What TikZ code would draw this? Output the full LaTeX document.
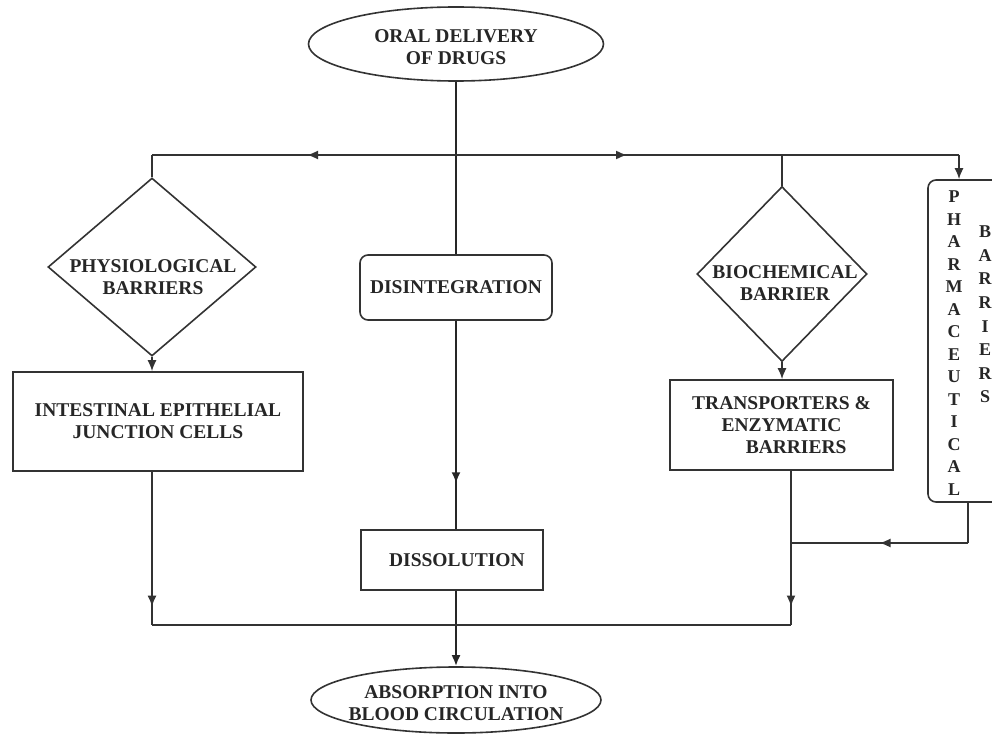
\documentclass[tikz,border=0pt]{standalone}
\usepackage{fontspec}
\setmainfont{Liberation Serif}
\usetikzlibrary{shapes.geometric,arrows.meta,decorations.markings}
\newcommand\lblfont{\fontsize{19.5}{22}\selectfont\bfseries}
\newcommand\pharmfont{\fontsize{18}{22.5}\selectfont\bfseries}
\newcommand\barrfont{\fontsize{18}{23.6}\selectfont\bfseries}
\tikzset{
  conn/.style={draw=black!80, line width=1.6pt},
  mainconn/.style={draw=black!85, line width=2.2pt},
  tipend/.style={-{Latex[length=11pt,width=9pt]}},
  midarrow/.style={postaction={decorate}, decoration={markings, mark=at position #1 with {\arrow{Latex[length=11pt,width=9pt]}}}},
  shapebox/.style={draw=black!80, line width=1.6pt, inner sep=0pt},
  lbl/.style={font=\lblfont, text=black!85, align=center, inner sep=0pt},
}
\begin{document}
\begin{tikzpicture}[x=1pt,y=-1pt]
\useasboundingbox (0,0) rectangle (992,738);
\clip (0,0) rectangle (992,738);

% shapes
\node[shapebox, ellipse, minimum width=295pt, minimum height=74pt] (top) at (456,44) {};
\node[lbl] (topT) at (456,47) {ORAL DELIVERY\\OF DRUGS};

\node[shapebox, diamond, minimum width=208pt, minimum height=178pt] (phys) at (152,267) {};
\node[lbl] (physT) at (153,277) {PHYSIOLOGICAL\\BARRIERS};

\node[shapebox, rounded corners=8pt, minimum width=192pt, minimum height=65pt, lbl] (dis) at (456,287.5) {DISINTEGRATION};

\node[shapebox, diamond, minimum width=170pt, minimum height=175pt] (bio) at (782,274) {};
\node[lbl] (bioT) at (785,283) {BIOCHEMICAL\\BARRIER};

\node[shapebox, rounded corners=8pt, minimum width=80pt, minimum height=322pt] (pharma) at (968,341) {};
\node[font=\pharmfont, text=black!85, align=center, inner sep=0pt] (pharmT) at (954,343) {P\\H\\A\\R\\M\\A\\C\\E\\U\\T\\I\\C\\A\\L};
\node[font=\barrfont, text=black!85, align=center, inner sep=0pt] (barrT) at (985,314.5) {B\\A\\R\\R\\I\\E\\R\\S};

\node[shapebox, minimum width=290pt, minimum height=99pt, lbl] (intest) at (158,421.5) {INTESTINAL EPITHELIAL\\JUNCTION CELLS};

\node[shapebox, minimum width=223pt, minimum height=90pt, lbl] (trans) at (781.5,425) {TRANSPORTERS \&\\ENZYMATIC\\\hspace*{1.5em}BARRIERS};

\node[shapebox, minimum width=182pt, minimum height=60pt, lbl] (diss) at (452,560) {\hspace*{0.5em}DISSOLUTION};

\node[shapebox, ellipse, minimum width=290pt, minimum height=66pt] (bot) at (456,700) {};
\node[lbl] (botT) at (456,703) {ABSORPTION INTO\\BLOOD CIRCULATION};

% junction coordinates
\coordinate (J0) at (456,155);
\coordinate (Lc) at (152,155);
\coordinate (Rc) at (959,155);
\coordinate (BL) at (152,625);
\coordinate (BR) at (791,625);
\coordinate (RJ) at (791,543);

% connectors
\draw[mainconn] (top.south) -- (dis.north);
\draw[mainconn, midarrow=0.78] (dis.south) -- (dis.south |- diss.north);
\draw[mainconn, tipend] (dis.south |- diss.south) -- (bot.north);

\draw[conn, midarrow=0.49] (J0) -- (Lc);
\draw[conn] (Lc) -- (phys.north);
\draw[conn, midarrow=0.34] (J0) -- (Rc);
\draw[conn, tipend] (Rc) -- (Rc |- pharma.north);
\draw[conn] (bio.north |- J0) -- (bio.north);

\draw[conn, tipend] (phys.south) -- (phys.south |- intest.north);
\draw[conn, tipend] (bio.south) -- (bio.south |- trans.north);

\draw[conn, midarrow=0.88] (BL |- intest.south) -- (BL);
\draw[conn, midarrow=0.88] (BR |- trans.south) -- (BR);
\draw[conn] (BL) -- (BR);

\draw[conn] (pharma.south) -- (pharma.south |- RJ);
\draw[conn, midarrow=0.5] (pharma.south |- RJ) -- (RJ);
\end{tikzpicture}
\end{document}
